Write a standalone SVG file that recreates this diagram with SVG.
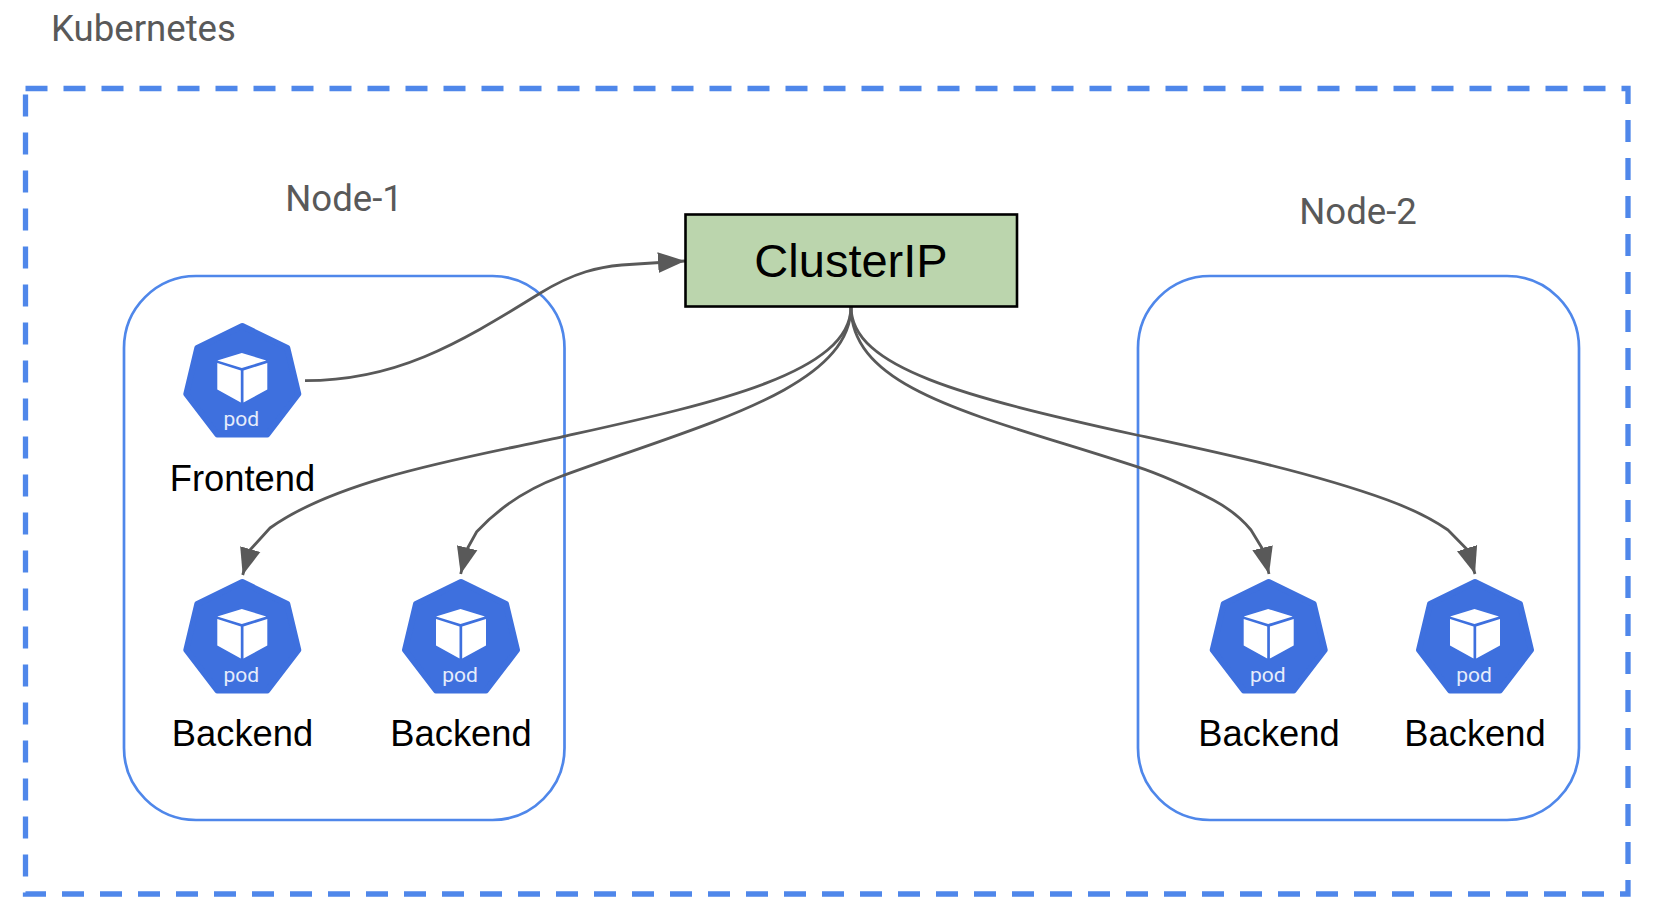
<svg xmlns="http://www.w3.org/2000/svg" xmlns:xlink="http://www.w3.org/1999/xlink" width="1658" height="912" viewBox="0 0 1658 912">
<style>
.lbl{font-family:Roboto,"Liberation Sans",sans-serif;font-size:36.6px;fill:#595959}
.name{font-family:"Liberation Sans",Arial,sans-serif;font-size:36.3px;fill:#000;text-anchor:middle}
.box{fill:none;stroke:#4f87ea;stroke-width:2.7}
.conn{fill:none;stroke:#595959;stroke-width:2.8;stroke-linejoin:round;marker-end:url(#arrow)}
.pod{font-family:Roboto,"Liberation Sans",sans-serif;font-size:21px;fill:#e6ecfb;text-anchor:middle}
</style>
<defs>
<marker id="arrow" markerUnits="userSpaceOnUse" markerWidth="29" markerHeight="22" refX="27" refY="11" orient="auto"><path d="M0,0.5 L27,11 L0,21.5 Z" fill="#595959"/></marker>
<g id="podicon">
<path d="M0,3 L45,25 L56,71 L25,111.5 L-25,111.5 L-56,71 L-45,25 Z" fill="#3e70de" stroke="#3e70de" stroke-width="6" stroke-linejoin="round"/>
<path d="M-0.5,30 L24,37.5 L-0.5,45 L-25,37.5 Z M-25,40 L-1.5,47.5 L-1.5,79.5 L-25,66.5 Z M1.2,47.5 L25,40 L25,66.5 L1.2,79.5 Z" fill="#fff"/>
<text class="pod" x="-1" y="103">pod</text>
</g>
</defs>
<g id="cluster"><rect x="25.5" y="88.5" width="1602.5" height="805.5" fill="none" stroke="#4f87ea" stroke-width="5.3" stroke-dasharray="22 16"/></g>
<text class="lbl" x="51" y="41">Kubernetes</text>
<g id="node-1"><rect class="box" x="124" y="276" width="440.5" height="544" rx="72" ry="72"/><text class="lbl" x="344" y="211" text-anchor="middle">Node-1</text></g>
<g id="node-2"><rect class="box" x="1138" y="276" width="441" height="544" rx="72" ry="72"/><text class="lbl" x="1358" y="224" text-anchor="middle">Node-2</text></g>
<g id="connectors">
<path class="conn" d="M305,380.7 C395,380.5 455,346 540,293.3 C575,271.6 600,267 621.7,265 L660,262.5 L685,261"/>
<path class="conn" d="M851,306.7 C851,375 705,405 560,437.3 C470,457 340,478 270,528 L250,550 L242.7,575"/>
<path class="conn" d="M851,306.7 C851,389 700,424.9 560,476.7 C525,489.6 497,510 476.7,531.7 L466.7,549.7 L460.7,574"/>
<path class="conn" d="M851,306.7 C851,392 985,416.7 1136.7,466.7 C1165,476 1190,488 1213.3,500 C1230,509 1242,519 1251,530 L1263,549.7 L1269,574"/>
<path class="conn" d="M851,306.7 C851,368 965,397 1136.7,435 C1220,453 1310,472 1387.5,500 C1415,510 1432,519 1448,530 L1467.6,550 L1475,574"/>
</g>
<g id="clusterip"><rect x="685.5" y="214.5" width="331.5" height="92" fill="#bbd5ad" stroke="#000" stroke-width="2.6"/><text x="851" y="277" font-family="'Liberation Sans',Arial,sans-serif" font-size="47" text-anchor="middle" fill="#000">ClusterIP</text></g>
<g id="frontend"><use href="#podicon" x="242.3" y="323"/><text class="name" x="242.5" y="490.5">Frontend</text></g>
<g id="backend-1"><use href="#podicon" x="242.3" y="579"/><text class="name" x="242.5" y="746">Backend</text></g>
<g id="backend-2"><use href="#podicon" x="461" y="579"/><text class="name" x="461" y="746">Backend</text></g>
<g id="backend-3"><use href="#podicon" x="1268.7" y="579"/><text class="name" x="1269" y="746">Backend</text></g>
<g id="backend-4"><use href="#podicon" x="1475" y="579"/><text class="name" x="1475" y="746">Backend</text></g>
</svg>
